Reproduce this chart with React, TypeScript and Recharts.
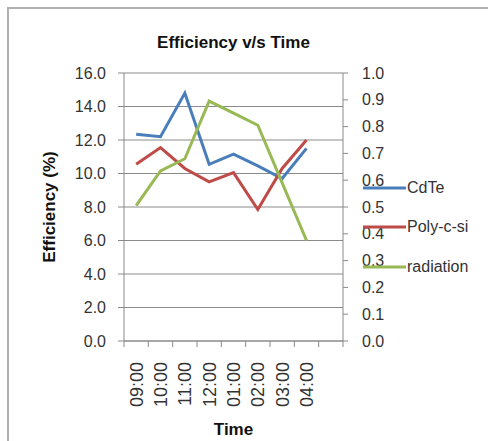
import React from "react";
import { LineChart, Line, XAxis, YAxis, CartesianGrid, Legend } from "recharts";

const times = ["09:00", "10:00", "11:00", "12:00", "01:00", "02:00", "03:00", "04:00", ""];
const cdte = [12.35, 12.2, 14.8, 10.55, 11.15, 10.45, 9.7, 11.5, null];
const polySi = [10.55, 11.55, 10.3, 9.5, 10.05, 7.85, 10.3, 12.0, null];
const radiation = [0.505, 0.635, 0.68, 0.895, 0.85, 0.805, 0.59, 0.375, null];
const leftTicks = [0, 2, 4, 6, 8, 10, 12, 14, 16];
const rightTicks = [0, 0.1, 0.2, 0.3, 0.4, 0.5, 0.6, 0.7, 0.8, 0.9, 1.0];

const seriesInfo = [
  { key: "cdte", name: "CdTe", color: "#4A7EBB", axis: "left" },
  { key: "poly", name: "Poly-c-si", color: "#BE4B48", axis: "left" },
  { key: "radiation", name: "radiation", color: "#98B954", axis: "right" },
];

const rows = times.map((t, i) => ({
  time: t,
  cdte: cdte[i],
  poly: polySi[i],
  radiation: radiation[i],
}));

const FONT = "'Liberation Sans', Arial, sans-serif";
const AXIS = "#8a8a8a";
const TXT = "#333333";

const W = 488;
const H = 441;
const M_TOP = 73;
const LEFT_W = 124;
const RIGHT_W = 145;
const X_H = 100;
const AXIS_Y = H - X_H;
const PLOT_W = W - LEFT_W - RIGHT_W;
const BAND = PLOT_W / times.length;

const XTick = (props: any) => {
  const { x, payload, index, visibleTicksCount } = props;
  const isLast = index === (visibleTicksCount ?? times.length) - 1;
  const ty = AXIS_Y + 21;
  return (
    <g>
      <line x1={x - BAND / 2} x2={x - BAND / 2} y1={AXIS_Y} y2={AXIS_Y + 6} stroke={AXIS} />
      {isLast && <line x1={x + BAND / 2} x2={x + BAND / 2} y1={AXIS_Y} y2={AXIS_Y + 6} stroke={AXIS} />}
      <text
        x={x}
        y={ty}
        transform={`rotate(-90, ${x}, ${ty})`}
        textAnchor="end"
        dy="0.36em"
        fill={TXT}
        fontSize={18}
        fontFamily={FONT}
      >
        {payload.value}
      </text>
    </g>
  );
};

const YLabel = (props: any) => {
  const vb = props.viewBox || {};
  const cx = 49;
  const cy = vb.y + vb.height / 2;
  return (
    <text
      x={cx}
      y={cy}
      transform={`rotate(-90, ${cx}, ${cy})`}
      textAnchor="middle"
      dy="0.36em"
      fontWeight="bold"
      fontSize={17}
      fontFamily={FONT}
      fill="#111"
    >
      Efficiency (%)
    </text>
  );
};

const XLabel = (props: any) => {
  const vb = props.viewBox || {};
  const cx = vb.x + vb.width / 2;
  return (
    <text x={cx} y={429} textAnchor="middle" dy="0.36em" fontWeight="bold" fontSize={17} fontFamily={FONT} fill="#111">
      Time
    </text>
  );
};

const LegendContent = () => (
  <div style={{ fontFamily: FONT }}>
    {seriesInfo.map((s) => (
      <div key={s.key} style={{ height: 39.5, display: "flex", alignItems: "center" }}>
        <svg width={43} height={6} style={{ display: "block" }}>
          <line x1={0} x2={43} y1={3} y2={3} stroke={s.color} strokeWidth={3} />
        </svg>
        <span style={{ fontSize: 16, color: TXT, marginLeft: 1, lineHeight: "16px" }}>{s.name}</span>
      </div>
    ))}
  </div>
);

export default function App() {
  return (
    <div style={{ position: "absolute", left: 0, top: 0, width: W, height: H, background: "#fff", overflow: "hidden" }}>
      <div
        style={{
          position: "absolute",
          left: 7,
          top: 7,
          width: W - 9,
          height: H - 9,
          borderLeft: "2px solid #b0b0b0",
          borderTop: "2px solid #b0b0b0",
        }}
      />
      <div
        style={{
          position: "absolute",
          left: LEFT_W,
          width: PLOT_W,
          top: 31,
          textAlign: "center",
          fontFamily: FONT,
          fontWeight: "bold",
          fontSize: 17,
          color: "#111",
          lineHeight: "24px",
          whiteSpace: "nowrap",
        }}
      >
        Efficiency v/s Time
      </div>
      <div style={{ position: "absolute", left: 0, top: 0 }}>
        <LineChart width={W} height={H} data={rows} margin={{ top: M_TOP, right: 0, bottom: 0, left: 0 }}>
          <CartesianGrid yAxisId="left" vertical={false} stroke={AXIS} strokeWidth={1} />
          <XAxis
            dataKey="time"
            scale="band"
            height={X_H}
            interval={0}
            tickLine={false}
            tickSize={0}
            tickMargin={0}
            axisLine={{ stroke: AXIS }}
            tick={<XTick />}
            label={<XLabel />}
          />
          <YAxis
            yAxisId="left"
            width={LEFT_W}
            domain={[0, 16]}
            ticks={leftTicks}
            tickFormatter={(v: number) => v.toFixed(1)}
            tickSize={6}
            tickMargin={12}
            axisLine={{ stroke: AXIS }}
            tickLine={{ stroke: AXIS }}
            tick={{ fill: TXT, fontSize: 16, fontFamily: FONT }}
            label={<YLabel />}
          />
          <YAxis
            yAxisId="right"
            orientation="right"
            width={RIGHT_W}
            domain={[0, 1]}
            ticks={rightTicks}
            tickFormatter={(v: number) => v.toFixed(1)}
            tickSize={5}
            tickMargin={14}
            axisLine={{ stroke: AXIS }}
            tickLine={{ stroke: AXIS }}
            tick={{ fill: TXT, fontSize: 16, fontFamily: FONT }}
          />
          {seriesInfo.map((s) => (
            <Line
              key={s.key}
              yAxisId={s.axis}
              dataKey={s.key}
              name={s.name}
              stroke={s.color}
              strokeWidth={3}
              dot={false}
              activeDot={false}
              isAnimationActive={false}
            />
          ))}
          <Legend
            layout="vertical"
            align="center"
            verticalAlign="middle"
            wrapperStyle={{ left: 363, top: 168, width: "auto", right: "auto", bottom: "auto" }}
            content={<LegendContent />}
          />
        </LineChart>
      </div>
    </div>
  );
}
